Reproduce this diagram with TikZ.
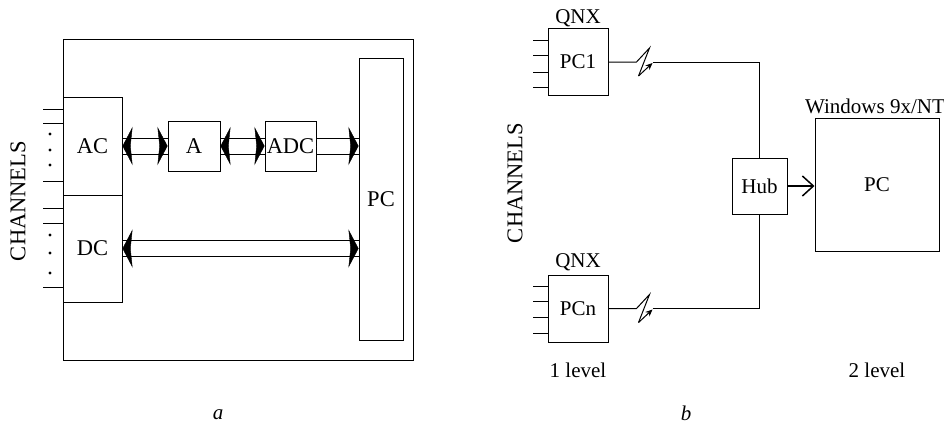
\documentclass[tikz,border=0pt]{standalone}
\usepackage{fontspec}
\setmainfont{Liberation Serif}
\usetikzlibrary{arrows.meta,positioning}
\begin{document}
\begin{tikzpicture}[x=1pt,y=-1pt,line width=1pt,
	every node/.style={font=\fontsize{21}{24}\selectfont},
	box/.style={draw,inner sep=0pt},
	big/.style={font=\fontsize{22.5}{26}\selectfont},
	bus/.style={double,double distance=15pt},
	heads/.style={draw=white,line width=0.4pt},
	>={Stealth[color=black,fill=black,length=10pt,width=38pt,inset=2pt]}]
	\useasboundingbox (0,0) rectangle (944,434);
	% a
	\draw (63,39) rectangle (413,360);
	\node[box,big,minimum width=59,minimum height=98] (ac) at (92.5,146) {AC};
	\node[box,big,minimum width=59,minimum height=107] (dc) at (92.5,248.5) {DC};
	\node[box,big,minimum width=52,minimum height=50] (a) at (194,146) {A};
	\node[box,big,minimum width=51,minimum height=50] (adc) at (290.5,146) {ADC};
	\node[box,big,minimum width=44,minimum height=282] (pc) at (381,199) {PC};
	\draw[bus] (ac.east) -- (a.west);
	\draw[heads,<->] (ac.east) -- (a.west);
	\draw[bus] (a.east) -- (adc.west);
	\draw[heads,<->] (a.east) -- (adc.west);
	\draw[bus] (adc.east) -- (adc.east -| pc.west);
	\draw[heads,->] (adc.east) -- (adc.east -| pc.west);
	\draw[bus] (dc.east) -- (dc.east -| pc.west);
	\draw[heads,<->] (dc.east) -- (dc.east -| pc.west);
	\foreach \y in {109,123,181,208,223,287}
		\draw (43,\y) -- (63,\y);
	\foreach \y in {134,150,165,235,253,273}
		\fill (50,\y) circle (1.6);
	\node[big,rotate=90] (chl) at (18,201) {CHANNELS};
	\node[anchor=base] (la) at (218,419) {\itshape a};
	% b
	\node[box,minimum width=60,minimum height=67] (pc1) at (578,62) {PC1};
	\node[box,minimum width=60,minimum height=67] (pcn) at (578,308.5) {PCn};
	\node[box,minimum width=55,minimum height=56] (hub) at (759.5,186) {Hub};
	\node[box,minimum width=124,minimum height=133] (pcw) at (877,184.5) {PC};
	\foreach \y in {40,55,72,87,286,301,317,333}
		\draw (533,\y) -- (548,\y);
	\draw (pc1.east) -- ++(28,0) -- ++(13,-14) -- ++(-11,28) coordinate (z1);
	\draw[-{Stealth[length=7pt,width=6pt]}] (z1) -- ++(14,-13);
	\draw ([xshift=44]pc1.east) -| (hub.north);
	\draw (pcn.east) -- ++(28,0) -- ++(13,-14) -- ++(-11,28) coordinate (z2);
	\draw[-{Stealth[length=7pt,width=6pt]}] (z2) -- ++(14,-13);
	\draw ([xshift=44]pcn.east) -| (hub.south);
	\draw[line width=1.5pt,-{Straight Barb[length=11pt,width=20pt]}] (hub.east) -- (hub.east -| pcw.west);
	\node[anchor=base] (q1) at (578,23) {QNX};
	\node[anchor=base] (q2) at (578,267.5) {QNX};
	\node[anchor=base] (win) at (875,113) {Windows 9x/NT};
	\node[anchor=base] (lv1) at (578,377) {1 level};
	\node[anchor=base] (lv2) at (877,377) {2 level};
	\node[big,rotate=90] (chr) at (515,183) {CHANNELS};
	\node[anchor=base] (lb) at (686,420) {\itshape b};
\end{tikzpicture}
\end{document}
